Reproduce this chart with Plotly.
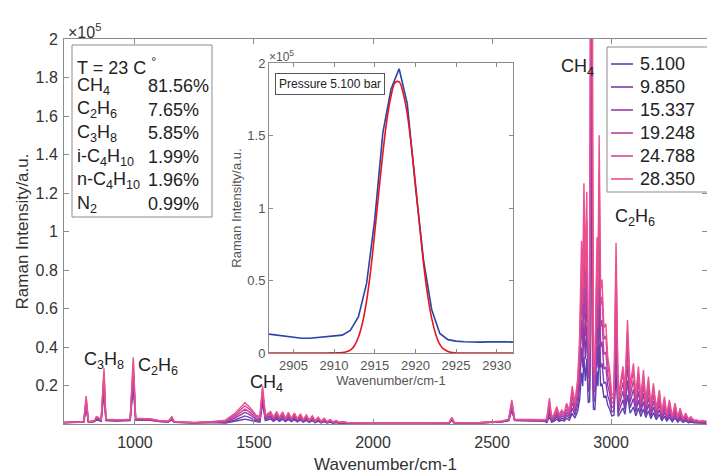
import plotly.graph_objects as go

FONT = "Liberation Sans, Arial, Helvetica, sans-serif"

# ---------------- main spectra data ----------------
pressures = ["5.100", "9.850", "15.337", "19.248", "24.788", "28.350"]
colors = ["#5b3fb0", "#7a3cae", "#9a3ca8", "#b843a0", "#d64896", "#ec4f8e"]

wavenumber = [
    700, 770, 785, 795, 805, 830, 838, 846, 858, 870, 878, 920, 960, 980, 993, 1003,
    1040, 1065, 1100, 1140, 1155, 1165, 1250, 1330, 1380, 1420, 1450, 1462, 1480, 1510,
    1525, 1536, 1548, 1570, 1582, 1595, 1607, 1620, 1632, 1645, 1657, 1670, 1682, 1695,
    1707, 1720, 1732, 1745, 1757, 1770, 1782, 1795, 1807, 1820, 1832, 1845, 1857, 1870,
    1890, 2000, 2200, 2320, 2331, 2342, 2450, 2540, 2570, 2583, 2595, 2650, 2700, 2720,
    2730, 2741, 2750, 2760, 2772, 2782, 2793, 2803, 2813, 2825, 2837, 2848, 2860, 2868,
    2876, 2881, 2886, 2892, 2898, 2904, 2910, 2914, 2916, 2918, 2920, 2922, 2926, 2932,
    2936, 2941, 2945, 2950, 2956, 2962,
    2970, 2978, 2986, 2994, 3003, 3012, 3021, 3030, 3040, 3050, 3058, 3069, 3080,
    3094, 3104, 3115, 3125, 3136, 3146, 3157, 3167, 3178, 3190, 3203, 3213, 3224, 3234,
    3245, 3257, 3269, 3280, 3290, 3302, 3314, 3325, 3335, 3348, 3360, 3370, 3381, 3400,
]

i_5100 = [
    630, 700, 1050, 8000, 840, 1260, 2100, 1900, 1400, 16000, 1750, 1540, 1610, 1750, 19000, 2100,
    1960, 1890, 1260, 1050, 2100, 840, 560, 840, 460, 1270, 2190, 2530, 2070, 1040,
    920, 10800, 1800, 2600, 1400, 2600, 1400, 2520, 1200, 2400, 1200, 2280, 1080, 2120,
    920, 1920, 800, 1720, 680, 1440, 560, 1200, 480, 960, 400, 720, 360, 480,
    320, 350, 350, 420, 1900, 420, 560, 1050, 1750, 6900, 1750, 1540, 1400, 1540,
    780, 3780, 980, 1400, 2520, 1400, 2040, 1540, 3020, 1960, 5520, 3080, 6690, 12600,
    26600, 19600, 35000, 22400, 33800, 11000, 11600, 48000, 152000, 196000, 115000, 30000, 7700, 7500,
    16800, 27200, 19600, 42000, 19600, 21000,
    14000, 14600, 9800, 7840, 4200, 4480, 26400, 3920, 6160, 8400, 5040, 15100, 5600,
    8820, 4200, 8340, 3920, 7840, 3360, 6890, 2800, 5910, 2240, 4960, 1680, 3980, 1400,
    3500, 1120, 3020, 980, 2300, 840, 1570, 700, 1060, 560, 590, 420, 480, 420,
]

i_9850 = [
    680, 750, 1130, 9400, 900, 1350, 2500, 2300, 1500, 18900, 1880, 1650, 1730, 1880, 22500, 2250,
    2100, 2030, 1350, 1130, 2500, 900, 600, 900, 760, 2090, 3610, 4180, 3420, 1710,
    1520, 12800, 2480, 3580, 1930, 3580, 1930, 3470, 1650, 3300, 1650, 3140, 1490, 2920,
    1270, 2640, 1100, 2370, 940, 1980, 770, 1650, 660, 1320, 550, 990, 500, 660,
    440, 380, 380, 450, 2300, 450, 600, 1130, 1880, 8100, 1880, 1650, 1500, 1650,
    1180, 5670, 1470, 2100, 3780, 2100, 3070, 2310, 4540, 2940, 8270, 4620, 10000, 18900,
    39900, 29400, 52500, 33600, 50700, 17000, 18000, 93000, 295000, 380000, 223000, 58000, 12000, 12000,
    25200, 40700, 29400, 63000, 29400, 31500,
    21000, 21800, 14700, 11800, 6300, 6720, 39600, 5880, 9240, 12600, 7560, 22700, 8400,
    13200, 6300, 12500, 5880, 11800, 5040, 10300, 4200, 8860, 3360, 7430, 2520, 5960, 2100,
    5250, 1680, 4540, 1470, 3440, 1260, 2350, 1050, 1600, 840, 880, 630, 710, 630,
]

i_15337 = [
    720, 800, 1200, 10900, 960, 1440, 2850, 2600, 1600, 21800, 2000, 1760, 1840, 2000, 26000, 2400,
    2240, 2160, 1440, 1200, 2850, 960, 640, 960, 1100, 3030, 5230, 6050, 4950, 2480,
    2200, 14800, 2930, 4230, 2280, 4230, 2280, 4100, 1950, 3900, 1950, 3710, 1760, 3450,
    1500, 3120, 1300, 2800, 1110, 2340, 910, 1950, 780, 1560, 650, 1170, 590, 780,
    520, 400, 400, 480, 2600, 480, 640, 1200, 2000, 9400, 2000, 1760, 1600, 1760,
    1600, 7700, 2000, 2850, 5130, 2850, 4160, 3140, 6160, 3990, 11200, 6270, 13600, 25700,
    54200, 39900, 71300, 45600, 68800, 24000, 25000, 144000, 456000, 590000, 345000, 90000, 17000, 17000,
    34200, 55300, 39900, 85500, 39900, 42800,
    28500, 29600, 20000, 16000, 8550, 9120, 53700, 7980, 12500, 17100, 10300, 30800, 11400,
    18000, 8550, 17000, 7980, 16000, 6840, 14000, 5700, 12000, 4560, 10100, 3420, 8090, 2850,
    7130, 2280, 6160, 2000, 4670, 1710, 3190, 1430, 2170, 1140, 1200, 860, 970, 860,
]

i_19248 = [
    770, 850, 1280, 12300, 1020, 1530, 3200, 3000, 1700, 24700, 2130, 1870, 1960, 2130, 29400, 2550,
    2380, 2300, 1530, 1280, 3200, 1020, 680, 1020, 1400, 3850, 6650, 7700, 6300, 3150,
    2800, 16700, 3510, 5070, 2730, 5070, 2730, 4910, 2340, 4680, 2340, 4450, 2110, 4130,
    1790, 3740, 1560, 3350, 1330, 2810, 1090, 2340, 940, 1870, 780, 1400, 700, 940,
    620, 430, 430, 510, 3000, 510, 680, 1280, 2130, 10600, 2130, 1870, 1700, 1870,
    2020, 9720, 2520, 3600, 6480, 3600, 5260, 3960, 7780, 5040, 14200, 7920, 17200, 32400,
    68400, 50400, 90000, 57600, 86900, 31000, 32000, 182000, 578000, 745000, 437000, 114000, 22000, 22000,
    43200, 69800, 50400, 108000, 50400, 54000,
    36000, 37400, 25200, 20200, 10800, 11500, 67800, 10100, 15800, 21600, 13000, 38900, 14400,
    22700, 10800, 21500, 10100, 20200, 8640, 17700, 7200, 15200, 5760, 12700, 4320, 10200, 3600,
    9000, 2880, 7780, 2520, 5900, 2160, 4030, 1800, 2740, 1440, 1510, 1080, 1220, 1080,
]

i_24788 = [
    840, 930, 1400, 13500, 1120, 1670, 3500, 3250, 1860, 27000, 2330, 2050, 2140, 2330, 32200, 2790,
    2600, 2510, 1670, 1400, 3500, 1120, 740, 1120, 1720, 4730, 8170, 9460, 7740, 3870,
    3440, 18300, 4050, 5850, 3150, 5850, 3150, 5670, 2700, 5400, 2700, 5130, 2430, 4770,
    2070, 4320, 1800, 3870, 1530, 3240, 1260, 2700, 1080, 2160, 900, 1620, 810, 1080,
    720, 470, 470, 560, 3250, 560, 740, 1400, 2330, 11600, 2330, 2050, 1860, 2050,
    2460, 11900, 3080, 4400, 7920, 4400, 6420, 4840, 9500, 6160, 17300, 9680, 21000, 39600,
    83600, 61600, 110000, 70400, 106000, 38000, 37000, 233000, 737000, 950000, 558000, 146000, 27000, 27000,
    52800, 85400, 61600, 132000, 61600, 66000,
    44000, 45800, 30800, 24600, 13200, 14100, 82900, 12300, 19400, 26400, 15800, 47500, 17600,
    27700, 13200, 26200, 12300, 24600, 10600, 21600, 8800, 18600, 7040, 15600, 5280, 12500, 4400,
    11000, 3520, 9500, 3080, 7220, 2640, 4930, 2200, 3340, 1760, 1850, 1320, 1500, 1320,
]

i_28350 = [
    900, 1000, 1500, 14500, 1200, 1800, 3800, 3500, 2000, 29000, 2500, 2200, 2300, 2500, 34600, 3000,
    2800, 2700, 1800, 1500, 3800, 1200, 800, 1200, 2000, 5500, 9500, 11000, 9000, 4500,
    4000, 19700, 4500, 6500, 3500, 6500, 3500, 6300, 3000, 6000, 3000, 5700, 2700, 5300,
    2300, 4800, 2000, 4300, 1700, 3600, 1400, 3000, 1200, 2400, 1000, 1800, 900, 1200,
    800, 500, 500, 600, 3500, 600, 800, 1500, 2500, 12500, 2500, 2200, 2000, 2200,
    2800, 13500, 3500, 5000, 9000, 5000, 7300, 5500, 10800, 7000, 19700, 11000, 23900, 45000,
    95000, 70000, 125000, 80000, 120700, 45000, 42000, 266000, 844000, 1090000, 638000, 167000, 30000, 30000,
    60000, 97000, 70000, 150000, 70000, 75000,
    50000, 52000, 35000, 28000, 15000, 16000, 94200, 14000, 22000, 30000, 18000, 54000, 20000,
    31500, 15000, 29800, 14000, 28000, 12000, 24600, 10000, 21100, 8000, 17700, 6000, 14200, 5000,
    12500, 4000, 10800, 3500, 8200, 3000, 5600, 2500, 3800, 2000, 2100, 1500, 1700, 1500,
]

series = [i_5100, i_9850, i_15337, i_19248, i_24788, i_28350]

# ---------------- inset data (pressure 5.100 bar) ----------------
inset_wn_meas = list(range(2902, 2933))
inset_meas = [
    13000, 12300, 11500, 10700, 10200, 10200, 10600, 11000, 11600, 12300, 15500,
    25000, 48000, 92000, 152000, 182000, 196000, 172000, 115000, 64000, 30000,
    13500, 9200, 8200, 7800, 7400, 7500, 7700, 7900, 7800, 7500,
]
inset_wn_fit = [
    2902, 2906, 2909, 2910, 2911, 2911.5, 2912, 2912.5, 2913, 2913.5, 2914, 2914.5, 2915,
    2915.5, 2916, 2916.5, 2917, 2917.5, 2918, 2918.5, 2919, 2919.5, 2920, 2920.5, 2921,
    2921.5, 2922, 2922.5, 2923, 2923.5, 2924, 2924.5, 2925.5, 2927, 2930, 2932,
]
inset_fit = [
    0, 0, 0, 100, 300, 800, 2000, 5000, 11000, 21000, 36000, 57000, 83000,
    111000, 138000, 161000, 177000, 186500, 187000, 179000, 165000, 143000, 117000, 89000, 62000,
    40000, 24000, 13000, 6000, 2600, 1100, 400, 0, 0, 0, 0,
]

# ---------------- annotation texts ----------------
temperature_label = "T = 23 C <sup>°</sup>"
species = ["CH<sub>4</sub>", "C<sub>2</sub>H<sub>6</sub>", "C<sub>3</sub>H<sub>8</sub>",
           "i-C<sub>4</sub>H<sub>10</sub>", "n-C<sub>4</sub>H<sub>10</sub>", "N<sub>2</sub>"]
fractions = ["81.56%", "7.65%", "5.85%", "1.99%", "1.96%", "0.99%"]

main_xticks = [1000, 1500, 2000, 2500, 3000]
main_yticks = [20000, 40000, 60000, 80000, 100000, 120000, 140000, 160000, 180000, 200000]
main_yticktext = ["0.2", "0.4", "0.6", "0.8", "1", "1.2", "1.4", "1.6", "1.8", "2"]
inset_xticks = [2905, 2910, 2915, 2920, 2925, 2930]
inset_yticks = [0, 50000, 100000, 150000, 200000]
inset_yticktext = ["0", "0.5", "1", "1.5", "2"]

# ---------------- geometry helpers (pixels -> paper) ----------------
W, H = 707, 476
L, R, T, B = 64, 0, 39, 52
PW, PH = W - L - R, H - T - B


def px(x):
    return (x - L) / PW


def py(y):
    return (H - B - y) / PH


fig = go.Figure()

for name, vals, col in zip(pressures, series, colors):
    fig.add_trace(go.Scatter(x=wavenumber, y=vals, mode="lines", name=name,
                             line=dict(color=col, width=1.4), xaxis="x", yaxis="y"))

fig.add_trace(go.Scatter(x=inset_wn_meas, y=inset_meas, mode="lines", showlegend=False,
                         line=dict(color="#2746a6", width=1.6), xaxis="x2", yaxis="y2"))
fig.add_trace(go.Scatter(x=inset_wn_fit, y=inset_fit, mode="lines", showlegend=False,
                         line=dict(color="#e8141e", width=1.6, shape="spline"),
                         xaxis="x2", yaxis="y2"))

axis_col = "#8c8c8c"
ann = []
shapes = []

# main multiplier (placed relative to the main axes' domain)
ann.append(dict(text="×10<sup>5</sup>", x=px(66), y=py(31), xref="x domain", yref="y domain",
                xanchor="left", yanchor="middle", showarrow=False,
                font=dict(size=16, color="#333", family=FONT)))
# inset multiplier
ann.append(dict(text="×10<sup>5</sup>", x=px(267), y=py(56), xref="paper", yref="paper",
                xanchor="left", yanchor="middle", showarrow=False,
                font=dict(size=12, color="#555", family=FONT)))
# pressure label
ann.append(dict(text="Pressure 5.100 bar", x=px(329.5), y=py(83.5), xref="paper", yref="paper",
                xanchor="center", yanchor="middle", showarrow=False,
                bordercolor="#555", borderwidth=1, borderpad=3, bgcolor="white",
                font=dict(size=12, color="#222", family=FONT)))

# composition box
shapes.append(dict(type="rect", xref="paper", yref="paper", x0=px(72), x1=px(212),
                   y0=py(217), y1=py(45), line=dict(color=axis_col, width=1),
                   fillcolor="white", layer="above"))
ann.append(dict(text=temperature_label, x=px(75), y=py(66), xref="paper", yref="paper",
                xanchor="left", yanchor="middle", showarrow=False,
                font=dict(size=18, color="#222", family=FONT)))
ys = [86, 110, 133, 157, 180, 204]
for s, f, yy in zip(species, fractions, ys):
    ann.append(dict(text=s, x=px(75), y=py(yy), xref="paper", yref="paper",
                    xanchor="left", yanchor="middle", showarrow=False,
                    font=dict(size=18, color="#222", family=FONT)))
    ann.append(dict(text=f, x=px(146), y=py(yy), xref="paper", yref="paper",
                    xanchor="left", yanchor="middle", showarrow=False,
                    font=dict(size=18, color="#222", family=FONT)))

# peak labels
peak_labels = [("CH<sub>4</sub>", 577, 67), ("C<sub>2</sub>H<sub>6</sub>", 635, 217),
               ("C<sub>3</sub>H<sub>8</sub>", 104, 360), ("C<sub>2</sub>H<sub>6</sub>", 158, 366),
               ("CH<sub>4</sub>", 266, 383)]
for t, x, y in peak_labels:
    ann.append(dict(text=t, x=px(x), y=py(y), xref="paper", yref="paper",
                    xanchor="center", yanchor="middle", showarrow=False,
                    font=dict(size=18, color="#222", family=FONT)))

# legend box drawn from the series names / colours
shapes.append(dict(type="rect", xref="paper", yref="paper", x0=px(607), x1=px(720),
                   y0=py(192), y1=py(47), line=dict(color=axis_col, width=1),
                   fillcolor="white", layer="above"))
for k, (name, col) in enumerate(zip(pressures, colors)):
    yy = 64 + k * 23
    shapes.append(dict(type="line", xref="paper", yref="paper", x0=px(611), x1=px(633),
                       y0=py(yy), y1=py(yy), line=dict(color=col, width=1.6), layer="above"))
    ann.append(dict(text=name, x=px(638), y=py(yy), xref="paper", yref="paper",
                    xanchor="left", yanchor="middle", showarrow=False,
                    font=dict(size=18, color="#222", family=FONT)))

fig.update_layout(
    width=W, height=H,
    margin=dict(l=L, r=R, t=T, b=B, autoexpand=False),
    paper_bgcolor="white", plot_bgcolor="white",
    font=dict(family=FONT),
    showlegend=False,
    xaxis=dict(domain=[0, 1], range=[702, 3403], tickvals=main_xticks, automargin=False,
               ticks="inside", ticklen=5, tickcolor=axis_col, showline=True,
               linecolor=axis_col, mirror="ticks", showgrid=False, zeroline=False,
               tickfont=dict(size=16, color="#333"), ticklabelstandoff=4,
               title=dict(text="Wavenumber/cm-1", font=dict(size=17, color="#333"), standoff=7)),
    yaxis=dict(domain=[0, 1], range=[0, 200000], tickvals=main_yticks, ticktext=main_yticktext,
               automargin=False,
               ticks="inside", ticklen=5, tickcolor=axis_col, showline=True,
               linecolor=axis_col, mirror="ticks", showgrid=False, zeroline=False,
               tickfont=dict(size=16, color="#333"), ticklabelstandoff=2,
               title=dict(text="Raman Intensity/a.u.", font=dict(size=17, color="#333"), standoff=2)),
    xaxis2=dict(domain=[px(269), px(513)], anchor="y2", range=[2902, 2932], tickvals=inset_xticks,
                automargin=False,
                ticks="inside", ticklen=4, tickcolor=axis_col, showline=True,
                linecolor=axis_col, mirror="ticks", showgrid=False, zeroline=False,
                tickfont=dict(size=13, color="#555"),
                title=dict(text="Wavenumber/cm-1", font=dict(size=13, color="#555"), standoff=3)),
    yaxis2=dict(domain=[py(353), py(63)], anchor="x2", range=[0, 200000], tickvals=inset_yticks,
                ticktext=inset_yticktext, automargin=False,
                ticks="inside", ticklen=4, tickcolor=axis_col, showline=True,
                linecolor=axis_col, mirror="ticks", showgrid=False, zeroline=False,
                tickfont=dict(size=13, color="#555"),
                title=dict(text="Raman Intensity/a.u.", font=dict(size=13, color="#555"), standoff=2)),
    annotations=ann,
    shapes=shapes,
)

fig.write_html("out.html", config={"displayModeBar": False},
               post_script="document.body.style.margin='0';document.body.style.overflow='hidden';")
